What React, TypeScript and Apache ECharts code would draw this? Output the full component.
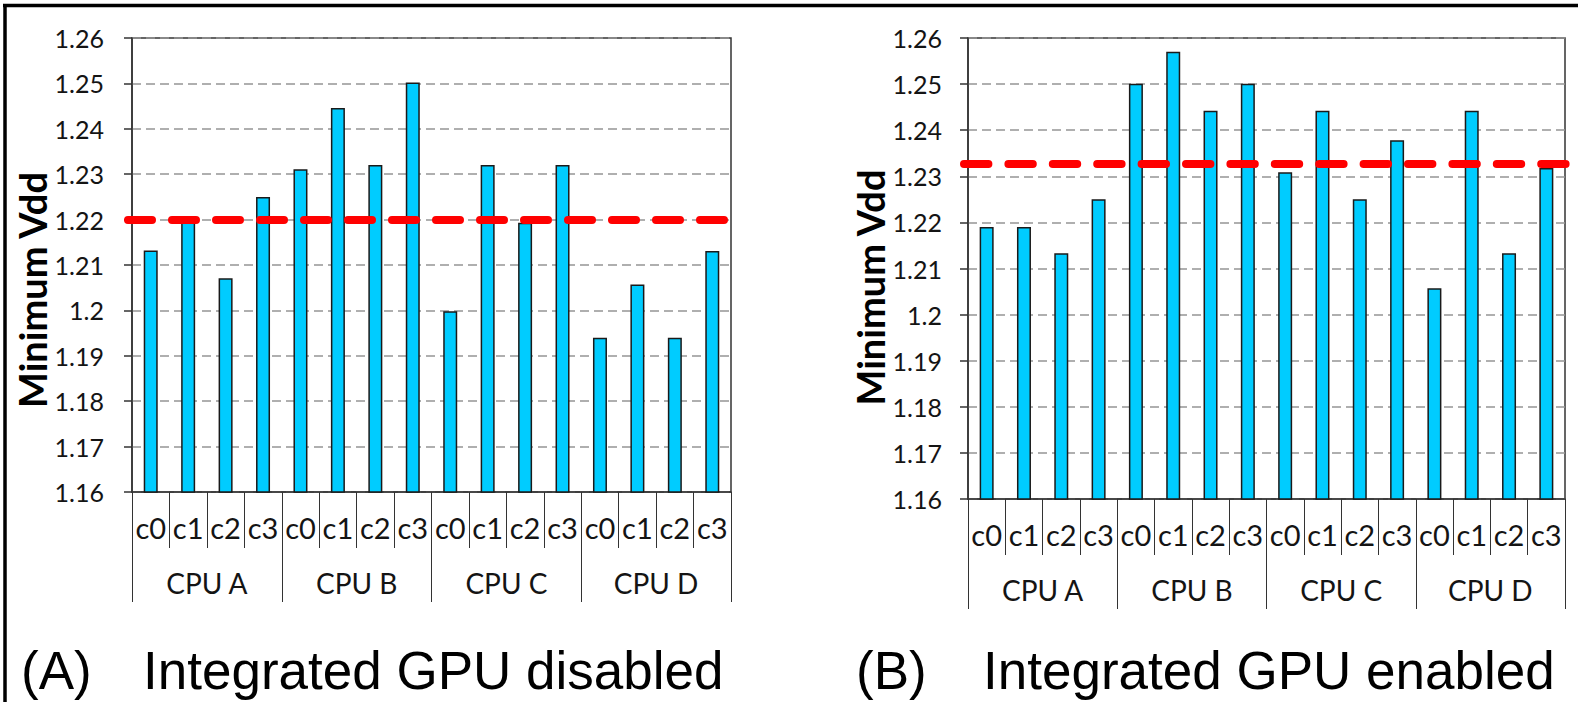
import React, { useEffect, useRef } from "react";
import * as echarts from "echarts";

const cores = ["c0", "c1", "c2", "c3", "c0", "c1", "c2", "c3", "c0", "c1", "c2", "c3", "c0", "c1", "c2", "c3"];
const cpus = ["CPU A", "CPU B", "CPU C", "CPU D"];
const vddDisabled = [1.2132, 1.2198, 1.2071, 1.225, 1.2311, 1.2446, 1.232, 1.2502, 1.1998, 1.232, 1.2193, 1.232, 1.194, 1.2057, 1.194, 1.2131];
const vddEnabled = [1.219, 1.219, 1.2133, 1.225, 1.2501, 1.257, 1.2442, 1.2501, 1.2309, 1.2442, 1.225, 1.2378, 1.2057, 1.2442, 1.2133, 1.2318];
const thresholdDisabled = 1.22;
const thresholdEnabled = 1.2328;
const yMin = 1.16;
const yMax = 1.26;
const yStep = 0.01;
const panelLetters = ["(A)", "(B)"];
const panelTitles = ["Integrated GPU disabled", "Integrated GPU enabled"];
const yName = "Minimum Vdd";

const LABEL_FONT = "Lato";
const AXIS_COLOR = "#333";
const TEXT_COLOR = "#141414";

function coreAxis(gridIndex: number) {
  return {
    gridIndex,
    type: "category",
    data: cores,
    position: "bottom",
    axisLine: { show: true, lineStyle: { color: AXIS_COLOR, width: 1.5 } },
    axisTick: { show: true, interval: 0, length: 56, lineStyle: { color: AXIS_COLOR, width: 1 } },
    axisLabel: { interval: 0, margin: 21, fontFamily: LABEL_FONT, fontSize: 29, color: TEXT_COLOR },
    splitLine: { show: false },
  };
}

function cpuAxis(gridIndex: number) {
  return {
    gridIndex,
    type: "category",
    data: cpus,
    position: "bottom",
    axisLine: { show: false },
    axisTick: { show: true, interval: 0, length: 110, lineStyle: { color: AXIS_COLOR, width: 1 } },
    axisLabel: { interval: 0, margin: 77, fontFamily: LABEL_FONT, fontSize: 28, color: TEXT_COLOR },
    splitLine: { show: false },
  };
}

function valueAxis(gridIndex: number, nameGap: number, shift: number, labelMargin: number) {
  return {
    gridIndex,
    type: "value",
    min: yMin,
    max: yMax,
    interval: yStep,
    axisLine: { show: true, lineStyle: { color: AXIS_COLOR, width: 1.5 } },
    axisTick: { show: true, length: 8, lineStyle: { color: AXIS_COLOR, width: 1.5 } },
    axisLabel: { margin: labelMargin, fontFamily: LABEL_FONT, fontSize: 25, color: TEXT_COLOR },
    splitLine: { show: true, lineStyle: { color: "#959595", width: 1.5, type: [9, 5] } },
    name: yName,
    nameLocation: "middle",
    nameGap,
    nameTextStyle: {
      fontFamily: LABEL_FONT,
      fontWeight: "bold",
      fontSize: 38,
      color: "#000",
      padding: [0, shift, 0, 0],
    },
  };
}

function barSeries(data: number[], xi: number, yi: number, thr: number, x0: number, x1: number, dash: number[]) {
  return {
    type: "bar",
    xAxisIndex: xi,
    yAxisIndex: yi,
    data,
    barWidth: 14,
    itemStyle: { color: "#00CCFF", borderColor: "#1a1a1a", borderWidth: 1.5 },
    emphasis: { disabled: true },
    markLine: {
      silent: true,
      symbol: ["none", "none"],
      label: { show: false },
      emphasis: { disabled: true },
      lineStyle: { color: "#FF0000", width: 8, type: dash, cap: "round", opacity: 1 },
      data: [[{ x: x0, yAxis: thr }, { x: x1, yAxis: thr }]],
    },
  };
}

export default function App() {
  const ref = useRef<HTMLDivElement>(null);

  useEffect(() => {
    document.body.style.margin = "0";
    if (!ref.current) return;
    const chart = echarts.init(ref.current, undefined, { renderer: "svg" });
    const option: any = {
      animation: false,
      backgroundColor: "#ffffff",
      grid: [
        { left: 132, top: 38, width: 599, height: 454, show: true, borderColor: AXIS_COLOR, borderWidth: 1.5, backgroundColor: "transparent" },
        { left: 968, top: 38, width: 597, height: 461, show: true, borderColor: AXIS_COLOR, borderWidth: 1.5, backgroundColor: "transparent" },
      ],
      xAxis: [coreAxis(0), cpuAxis(0), coreAxis(1), cpuAxis(1)],
      yAxis: [valueAxis(0, 80, 50, 28), valueAxis(1, 78, 38, 26)],
      series: [
        barSeries(vddDisabled, 0, 0, thresholdDisabled, 128, 731, [24, 20]),
        barSeries(vddEnabled, 2, 1, thresholdEnabled, 964, 1568, [24.4, 20]),
      ],
      graphic: [
        { type: "line", silent: true, shape: { x1: 3, y1: 5.5, x2: 1578, y2: 5.5 }, style: { stroke: "#000", lineWidth: 3.5 } },
        { type: "line", silent: true, shape: { x1: 5, y1: 4, x2: 5, y2: 702 }, style: { stroke: "#000", lineWidth: 3.5 } },
        { type: "text", x: 21, y: 670, style: { text: panelLetters[0], fontFamily: "Liberation Sans", fontSize: 53, fill: "#000", verticalAlign: "middle" } },
        { type: "text", x: 143, y: 670, style: { text: panelTitles[0], fontFamily: "Liberation Sans", fontSize: 53, fill: "#000", verticalAlign: "middle" } },
        { type: "text", x: 856, y: 670, style: { text: panelLetters[1], fontFamily: "Liberation Sans", fontSize: 53, fill: "#000", verticalAlign: "middle" } },
        { type: "text", x: 983, y: 670, style: { text: panelTitles[1], fontFamily: "Liberation Sans", fontSize: 53, fill: "#000", verticalAlign: "middle" } },
      ],
    };
    chart.setOption(option);
    return () => chart.dispose();
  }, []);

  return <div ref={ref} style={{ position: "absolute", left: 0, top: 0, width: 1578, height: 702 }} />;
}
